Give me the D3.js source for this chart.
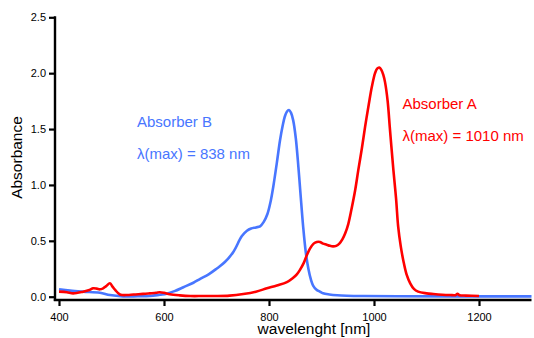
<!DOCTYPE html>
<html>
<head>
<meta charset="utf-8">
<script src="https://cdn.jsdelivr.net/npm/d3@7"></script>
<style>
  html, body { margin: 0; padding: 0; background: #fff; }
  svg { display: block; font-family: "Liberation Sans", Arial, Helvetica, sans-serif; }
</style>
</head>
<body>
<svg id="chart" width="534" height="338"></svg>
<script>
// ---- data ----
const wlB = [400, 421, 446, 478, 497, 522, 550, 573, 592, 605, 620, 637, 656, 669, 685, 700, 716, 732, 748, 758, 766, 775, 783, 790, 797, 803, 808, 815, 821, 826, 830, 834, 838, 842, 846, 851, 856, 860, 865, 870, 875, 880, 884, 890, 897, 903, 915, 930, 948, 980, 1050, 1150, 1300];
const absB = [0.066, 0.054, 0.045, 0.036, 0.015, 0.003, 0.004, 0.006, 0.018, 0.027, 0.05, 0.085, 0.125, 0.16, 0.2, 0.25, 0.31, 0.40, 0.54, 0.59, 0.61, 0.62, 0.63, 0.67, 0.74, 0.85, 0.98, 1.2, 1.40, 1.53, 1.61, 1.655, 1.67, 1.645, 1.58, 1.42, 1.16, 0.92, 0.63, 0.40, 0.25, 0.15, 0.10, 0.065, 0.045, 0.03, 0.02, 0.013, 0.009, 0.006, 0.004, 0.003, 0.003];

const wlA = [400, 415, 427, 446, 458, 465, 472, 478, 484, 490, 497, 502, 507, 516, 530, 542, 560, 573, 585, 592, 600, 611, 630, 650, 675, 700, 725, 751, 775, 796, 815, 834, 845, 853, 859, 866, 872, 878, 885, 891, 897, 903, 910, 916, 922, 928, 934, 940, 945, 951, 957, 964, 970, 977, 983, 990, 996, 1002, 1006, 1010, 1014, 1018, 1021, 1026, 1030, 1033, 1037, 1042, 1046, 1051, 1056, 1062, 1069, 1076, 1084, 1100, 1113, 1130, 1145, 1155, 1159, 1163, 1175, 1200];
const absA = [0.045, 0.04, 0.03, 0.045, 0.06, 0.075, 0.072, 0.066, 0.075, 0.095, 0.12, 0.09, 0.06, 0.02, 0.015, 0.02, 0.025, 0.03, 0.035, 0.04, 0.035, 0.022, 0.012, 0.006, 0.006, 0.006, 0.01, 0.024, 0.045, 0.075, 0.10, 0.13, 0.165, 0.20, 0.24, 0.30, 0.37, 0.43, 0.475, 0.49, 0.49, 0.475, 0.465, 0.455, 0.45, 0.455, 0.475, 0.515, 0.565, 0.65, 0.78, 0.95, 1.13, 1.33, 1.52, 1.72, 1.88, 2.0, 2.04, 2.05, 2.03, 1.98, 1.92, 1.75, 1.52, 1.35, 1.13, 0.88, 0.63, 0.45, 0.32, 0.2, 0.12, 0.07, 0.045, 0.03, 0.024, 0.018, 0.015, 0.014, 0.025, 0.013, 0.01, 0.006];

const xTicks = [400, 600, 800, 1000, 1200];
const yTicks = [0.0, 0.5, 1.0, 1.5, 2.0, 2.5];

const labelsB = ["Absorber B", "λ(max) = 838 nm"];
const labelsA = ["Absorber A", "λ(max) = 1010 nm"];

// ---- scales ----
const x = d3.scaleLinear().domain([400, 1300]).range([59, 531.5]);
const y = d3.scaleLinear().domain([0, 2.5]).range([296.7, 17.3]);

const svg = d3.select("#chart");
const colA = "#ff0000";
const colB = "#4876ff";

// ---- axes ----
const yAxis = d3.axisLeft(y).tickValues(yTicks).tickFormat(d3.format(".1f")).tickSizeOuter(0).tickSize(6).tickPadding(3);
const gy = svg.append("g").attr("transform", "translate(55,0)").call(yAxis);
gy.select(".domain").remove();
gy.selectAll(".tick line").attr("stroke", "#000").attr("stroke-width", 2.2);
gy.selectAll(".tick text").attr("font-size", 11).attr("fill", "#000");

const xAxis = d3.axisBottom(x).tickValues(xTicks).tickFormat(d3.format("d")).tickSizeOuter(0).tickSize(6).tickPadding(7);
const gx = svg.append("g").attr("transform", "translate(0,300)").call(xAxis);
gx.select(".domain").remove();
gx.selectAll(".tick line").attr("stroke", "#000").attr("stroke-width", 2.2);
gx.selectAll(".tick text").attr("font-size", 11).attr("fill", "#000");

svg.append("line").attr("x1", 55).attr("x2", 55).attr("y1", y(2.5) - 1).attr("y2", 301.1)
  .attr("stroke", "#000").attr("stroke-width", 2.4);
svg.append("line").attr("x1", 53.8).attr("x2", x(1300)).attr("y1", 300).attr("y2", 300)
  .attr("stroke", "#000").attr("stroke-width", 2.4);

// ---- titles ----
svg.append("text").attr("x", 314).attr("y", 334).attr("text-anchor", "middle")
  .attr("font-size", 15.5).attr("fill", "#000").text("wavelenght [nm]");
svg.append("text").attr("transform", "translate(22,157.5) rotate(-90)").attr("text-anchor", "middle")
  .attr("font-size", 15.5).attr("fill", "#000").text("Absorbance");

// ---- lines ----
const line = d3.line().x(d => x(d[0])).y(d => y(d[1])).curve(d3.curveCatmullRom.alpha(0.5));
svg.append("path").datum(wlB.map((w, i) => [w, absB[i]]))
  .attr("d", line).attr("fill", "none").attr("stroke", colB).attr("stroke-width", 2.6)
  .attr("stroke-linejoin", "round");
svg.append("path").datum(wlA.map((w, i) => [w, absA[i]]))
  .attr("d", line).attr("fill", "none").attr("stroke", colA).attr("stroke-width", 2.6)
  .attr("stroke-linejoin", "round");

// ---- annotations ----
svg.append("text").attr("x", 137).attr("y", 127).attr("font-size", 15).attr("fill", colB).text(labelsB[0]);
svg.append("text").attr("x", 137).attr("y", 159).attr("font-size", 15).attr("fill", colB).text(labelsB[1]);
svg.append("text").attr("x", 402.5).attr("y", 109).attr("font-size", 15).attr("fill", colA).text(labelsA[0]);
svg.append("text").attr("x", 402.5).attr("y", 141).attr("font-size", 15).attr("fill", colA).text(labelsA[1]);
</script>
</body>
</html>
